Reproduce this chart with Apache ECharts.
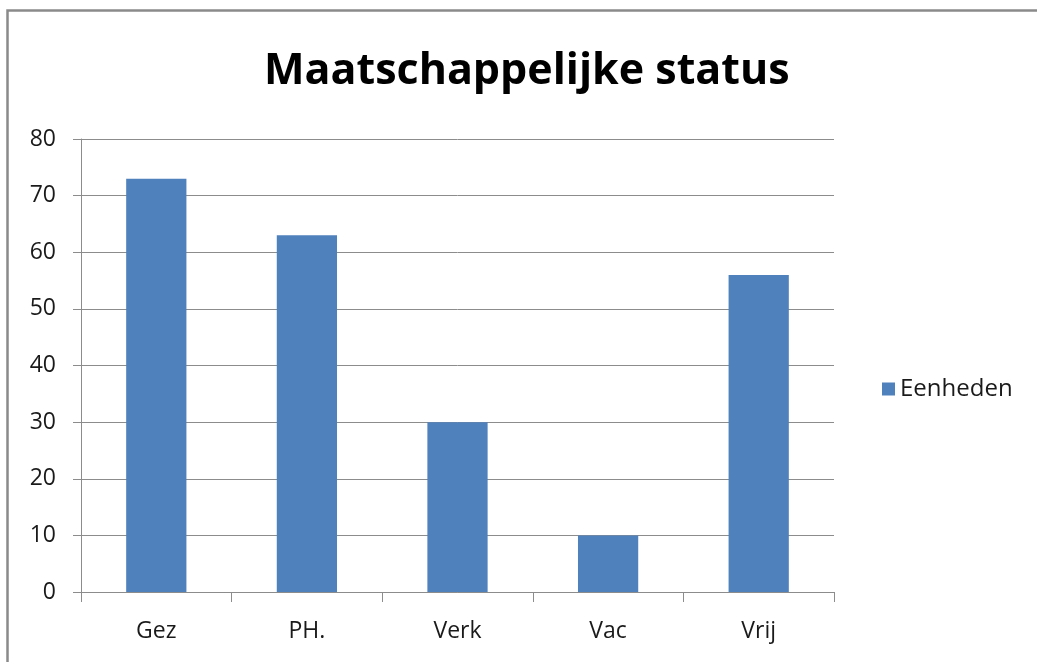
<!DOCTYPE html>
<html>
<head>
<meta charset="utf-8">
<script src="https://cdn.jsdelivr.net/npm/echarts@6/dist/echarts.min.js"></script>
<style>
html,body{margin:0;padding:0;background:#fff;}
#c{width:1037px;height:662px;}
</style>
</head>
<body>
<div id="c"></div>
<script>
const categories = ['Gez', 'PH.', 'Verk', 'Vac', 'Vrij'];
const eenheden = [73, 63, 30, 10, 56];
const seriesName = 'Eenheden';
const titleText = 'Maatschappelijke status';

const FONT = '"Open Sans", "DejaVu Sans", sans-serif';
const chart = echarts.init(document.getElementById('c'), null, {renderer: 'canvas'});
chart.setOption({
  animation: false,
  backgroundColor: '#fff',
  graphic: [{
    type: 'rect', z: -1, silent: true,
    shape: {x: 7.5, y: 10.5, width: 1200, height: 800},
    style: {fill: 'none', stroke: '#8a8a8a', lineWidth: 2.5}
  }],
  title: {
    text: titleText,
    left: 259,
    top: 45,
    textStyle: {fontFamily: FONT, fontWeight: 'bold', fontSize: 43, color: '#000'}
  },
  legend: {
    orient: 'vertical',
    left: 877,
    top: 372,
    itemWidth: 13,
    itemHeight: 13,
    itemGap: 8,
    icon: 'rect',
    textStyle: {fontFamily: FONT, fontSize: 24, color: '#1a1a1a'},
    data: [seriesName]
  },
  grid: {left: 81, right: 203, top: 139, bottom: 70, containLabel: false},
  xAxis: {
    type: 'category',
    data: categories,
    boundaryGap: true,
    axisLine: {show: true, lineStyle: {color: '#8c8c8c', width: 1}},
    axisTick: {show: true, length: 10, inside: false, lineStyle: {color: '#8c8c8c'}},
    axisLabel: {fontFamily: FONT, fontSize: 23, color: '#1a1a1a', margin: 28},
    splitLine: {show: false}
  },
  yAxis: {
    type: 'value',
    min: 0, max: 80, interval: 10,
    axisLine: {show: true, lineStyle: {color: '#8c8c8c', width: 1}},
    axisTick: {show: true, length: 8, lineStyle: {color: '#8c8c8c'}},
    axisLabel: {fontFamily: FONT, fontSize: 23, color: '#1a1a1a', margin: 25},
    splitLine: {show: true, lineStyle: {color: '#8c8c8c', width: 1}}
  },
  series: [{
    name: seriesName,
    type: 'bar',
    data: eenheden,
    barWidth: '40%',
    itemStyle: {color: '#4f81bd'}
  }]
});
</script>
</body>
</html>
